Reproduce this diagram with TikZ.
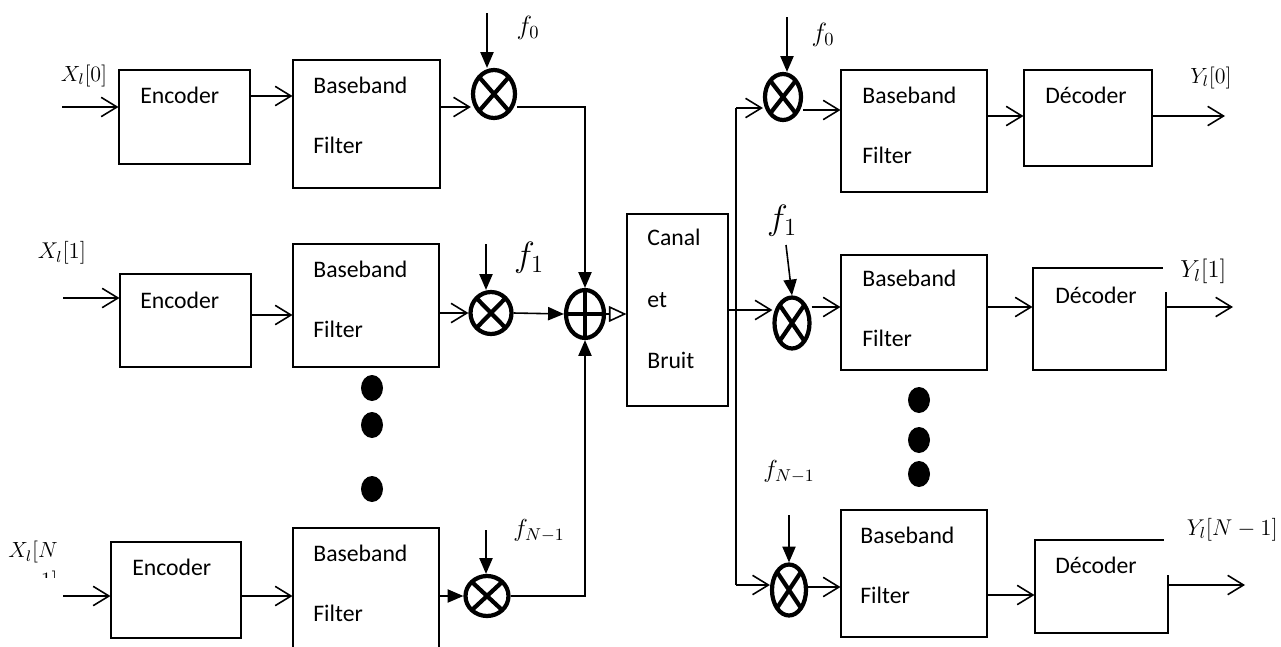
\RequirePackage{fix-cm}
\documentclass[tikz,border=0pt]{standalone}
\usepackage[no-math]{fontspec}
\setmainfont{Carlito}
\usetikzlibrary{arrows.meta,shapes.geometric}

\begin{document}
\begin{tikzpicture}[
    x=0.02cm, y=-0.02cm,
    blk/.style={draw, line width=0.6pt, inner sep=0pt},
    blktxt/.style={anchor=west, inner sep=0pt, align=left,
                   font=\fontsize{13.5}{34}\selectfont},
    mixer/.style={ellipse, draw, line width=2.4pt, inner sep=0pt,
                  path picture={\draw[line width=2.4pt]
                    (path picture bounding box.south west) -- (path picture bounding box.north east)
                    (path picture bounding box.north west) -- (path picture bounding box.south east);}},
    adder/.style={ellipse, draw, line width=2.4pt, inner sep=0pt,
                  path picture={\draw[line width=2.4pt]
                    (path picture bounding box.north) -- (path picture bounding box.south)
                    (path picture bounding box.west) -- (path picture bounding box.east);}},
    sig/.style={-{Straight Barb[length=9pt,width=11pt]}, line width=0.9pt},
    sigf/.style={-{Triangle[length=9pt,width=7.5pt]}, line width=0.9pt},
    sigo/.style={-{Triangle[open,length=10pt,width=9pt]}, line width=0.9pt},
    vdot/.style={ellipse, fill, inner sep=0pt, minimum width=0.44cm, minimum height=0.52cm},
    mlbl/.style={inner sep=0pt, font=\fontsize{#1}{17}\selectfont}
]
\useasboundingbox (0,0) rectangle (1281,646);

% transmitter
\node[blk, minimum width=2.62cm, minimum height=1.88cm] (enc1) at (184.5,117) {};
\node[blk, minimum width=2.62cm, minimum height=1.86cm] (enc2) at (185.5,320.5) {};
\node[blk, minimum width=2.60cm, minimum height=1.92cm] (enc3) at (176,590) {};
\node[blktxt] (enc1t) at (140,95)  {Encoder};
\node[blktxt] (enc2t) at (140,300) {Encoder};
\node[blktxt] (enc3t) at (132,567) {Encoder};

\node[blk, minimum width=2.94cm, minimum height=2.56cm] (bbt1) at (366.5,124) {};
\node[blk, minimum width=2.92cm, minimum height=2.46cm] (bbt2) at (366,305.5) {};
\node[blk, minimum width=2.92cm, minimum height=2.64cm] (bbt3) at (366,594) {};
\node[blktxt] (bbt1t) at (313,115)   {Baseband\\Filter};
\node[blktxt] (bbt2t) at (313,299.5) {Baseband\\Filter};
\node[blktxt] (bbt3t) at (313,583)   {Baseband\\Filter};

\node[mixer, minimum width=0.84cm, minimum height=0.96cm] (mt1) at (494,94) {};
\node[mixer, minimum width=0.82cm, minimum height=0.84cm] (mt2) at (491,313) {};
\node[mixer, minimum width=0.86cm, minimum height=0.80cm] (mt3) at (487,596) {};
\node[adder, minimum width=0.76cm, minimum height=0.96cm] (sum) at (585,314) {};

\node[blk, minimum width=2.02cm, minimum height=3.84cm] (canal) at (677.5,310) {};
\node[blktxt, font=\fontsize{13.5}{35}\selectfont] (canalt) at (647,299) {Canal\\et\\Bruit};

\node[mlbl=12.5] (xin1) at (84,76)  {$X_l[0]$};
\node[mlbl=13]   (xin2) at (62,253) {$X_l[1]$};
\begin{scope}
  \clip (0,520) rectangle (80,577);
  \node[mlbl=12.5, align=right, anchor=north west] (xin3) at (8,541) {$X_l[N$\\$-1]$};
\end{scope}
\node[mlbl=15]   (ft0) at (528,28)  {$f_0$};
\node[mlbl=20]   (ft1) at (529,258) {$f_1$};
\node[mlbl=14]   (ft2) at (539,531) {$f_{N-1}$};

\coordinate (in1) at (62,107);
\coordinate (in2) at (63,298);
\coordinate (in3) at (63,596);
\coordinate (ft0a) at (487,13);
\coordinate (ft1a) at (486,244);
\coordinate (ft2a) at (486,530);

\draw[sig] (in1) -- (enc1.west |- in1);
\draw[sig] (in2) -- (enc2.west |- in2);
\draw[sig] (in3) -- (enc3.west |- in3);
\draw[sig] (enc1.east |- 0,96)  -- (bbt1.west |- 0,96);
\draw[sig] (enc2.east |- 0,315) -- (bbt2.west |- 0,315);
\draw[sig] (enc3.east |- in3)   -- (bbt3.west |- in3);
\draw[sig]  (bbt1.east |- 0,107) -- (mt1.west |- 0,107);
\draw[sig]  (bbt2.east |- mt2.west) -- (mt2.west);
\draw[sigf] (bbt3.east |- mt3.west) -- (mt3.west);
\draw[sigf] (ft0a) -- (ft0a |- mt1.north);
\draw[sigf] (ft1a) -- (ft1a |- mt2.north);
\draw[sigf] (ft2a) -- (ft2a |- mt3.north);
\draw[sigf] (mt1.east |- 0,107) -| (sum.north);
\draw[sigf] (mt2.east) -- (sum.west);
\draw[sigf] (mt3.east) -| (sum.south);
\draw[sigo] (sum.east) -- (canal.west |- sum.east);

\foreach \y [count=\i] in {388,425,489}
  \node[vdot] (ldot\i) at (372,\y) {};

% receiver
\node[mixer, minimum width=0.72cm, minimum height=0.92cm] (mr1) at (783,97) {};
\node[mixer, minimum width=0.70cm, minimum height=1.02cm] (mr2) at (792,323) {};
\node[mixer, minimum width=0.68cm, minimum height=1.02cm] (mr3) at (789,590) {};

\node[blk, minimum width=2.92cm, minimum height=2.44cm] (bbr1) at (914,131) {};
\node[blk, minimum width=2.92cm, minimum height=2.30cm] (bbr2) at (914,312.5) {};
\node[blk, minimum width=2.92cm, minimum height=2.54cm] (bbr3) at (914,573.5) {};
\node[blktxt] (bbr1t) at (862,125) {Baseband\\Filter};
\node[blktxt] (bbr2t) at (862,308) {Baseband\\Filter};
\node[blktxt] (bbr3t) at (860,565) {Baseband\\Filter};

\node[blk, minimum width=2.56cm, minimum height=1.92cm] (dec1) at (1088,118) {};
\node[blk, minimum width=2.66cm, minimum height=2.04cm] (dec2) at (1099.5,319) {};
\node[blk, minimum width=2.66cm, minimum height=1.86cm] (dec3) at (1101.5,586.5) {};
\node[blktxt] (dec1t) at (1045,95)  {Décoder};
\node[blktxt] (dec2t) at (1055,295) {Décoder};
\node[blktxt] (dec3t) at (1055,565) {Décoder};

\node[mlbl=15] (fr0) at (823,35)  {$f_0$};
\node[mlbl=20] (fr1) at (782,221) {$f_1$};
\node[mlbl=14] (fr2) at (789,472) {$f_{N-1}$};
\begin{scope}
  \clip (1150,50) rectangle (1229,100);
  \node[mlbl=12.5] (yout1) at (1211,78) {$Y_l[0]$};
\end{scope}
\node[mlbl=14, fill=white, anchor=south west, minimum width=1.6cm, minimum height=0.8cm] (yout2) at (1163,292) {$Y_l[1]$};
\node[mlbl=13, fill=white, anchor=south west, minimum width=2.72cm, minimum height=1.8cm] (yout3) at (1164,575) {$Y_l[N-1]$};

\coordinate (bustop) at (736,108);
\coordinate (busbot) at (736,585);
\coordinate (fr0a) at (787,17);
\coordinate (fr1a) at (786,245);
\coordinate (fr2a) at (789,515);
\coordinate (out1) at (1225,116);
\coordinate (out2) at (1233,307);
\coordinate (out3) at (1245,585);

\draw[line width=0.9pt] (bustop) -- (busbot);
\draw[sig] (bustop) -- (mr1.west |- bustop);
\draw[sig] (canal.east) -- (mr2.west |- canal.east);
\draw[sig] (busbot) -- (mr3.west |- busbot);
\draw[sigf] (fr0a) -- (fr0a |- mr1.north);
\draw[sigf] (fr1a) -- (mr2.north);
\draw[sigf] (fr2a) -- (fr2a |- mr3.north);
\draw[sig] (mr1.east |- 0,110) -- (bbr1.west |- 0,110);
\draw[sig] (mr2.east |- 0,307) -- (bbr2.west |- 0,307);
\draw[sig] (mr3.east |- 0,587) -- (bbr3.west |- 0,587);
\draw[sig] (bbr1.east |- 0,116) -- (dec1.west |- 0,116);
\draw[sig] (bbr2.east |- 0,307) -- (dec2.west |- 0,307);
\draw[sig] (bbr3.east |- 0,595) -- (dec3.west |- 0,595);
\draw[sig] (dec1.east |- out1) -- (out1);
\draw[sig] (dec2.east |- out2) -- (out2);
\draw[sig] (dec3.east |- out3) -- (out3);

\foreach \y [count=\i] in {400,440,474}
  \node[vdot] (rdot\i) at (919,\y) {};

\end{tikzpicture}
\end{document}
